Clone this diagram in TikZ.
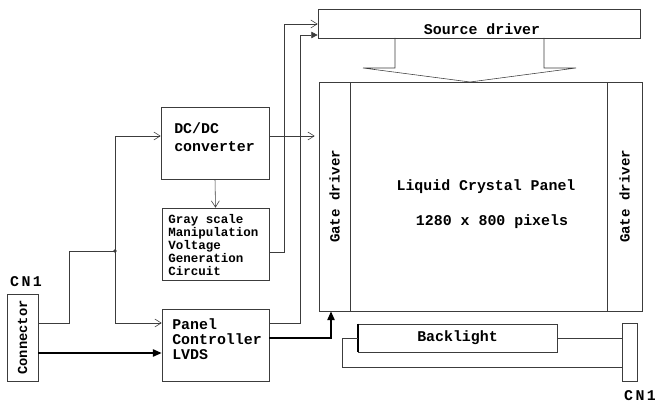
\documentclass[tikz,border=0pt]{standalone}
\usepackage{fontspec}
\setmainfont{Liberation Mono}
\usetikzlibrary{positioning, arrows.meta, calc}
\definecolor{lcdline}{RGB}{60,60,60}

\begin{document}
\begin{tikzpicture}[x=0.025cm, y=-0.025cm,
    blk/.style={draw=lcdline, thin, inner sep=0pt},
    txt/.style={inner sep=0pt, font=\bfseries\fontsize{10.6}{12.8}\selectfont},
    arr/.style={draw=lcdline, -{Straight Barb[length=1.6mm, width=2mm]}},
    sarr/.style={draw=lcdline, -{Triangle[length=1.6mm, width=1.6mm]}},
    fat/.style={draw=black, very thick, -{Triangle[length=2.2mm, width=1.8mm]}}]
  \useasboundingbox (0,0) rectangle (655,405);
  % display side
  \node[blk, minimum width=8.05cm, minimum height=0.725cm] (src) at (479,23.5) {};
  \node[txt] (srct) at (482,29) {Source driver};
  \node[blk, minimum width=8.075cm, minimum height=5.725cm] (panel) at (480.5,196.5) {};
  \node[blk, minimum width=0.775cm, minimum height=5.725cm, font=\bfseries\fontsize{10}{12}\selectfont] (gateL) at (334.5,196.5) {\rotatebox{90}{Gate driver}};
  \node[blk, minimum width=0.875cm, minimum height=5.725cm, font=\bfseries\fontsize{10}{12}\selectfont] (gateR) at (624.5,196.5) {\rotatebox{90}{Gate driver}};
  \node[txt] (lcd) at (486,187) {Liquid Crystal Panel};
  \node[txt] (res) at (492,222) {1280 x 800 pixels};
  \draw[lcdline] (395,38) -- (395,68) -- (363,68) -- (470,82) -- (576,68) -- (544,68) -- (544,38);
  % backlight
  \node[blk, txt, minimum width=4.975cm, minimum height=0.7cm] (bl) at (457.5,338) {Backlight};
  \node[blk, minimum width=0.375cm, minimum height=1.45cm] (cnb) at (629.5,352) {};
  \node[txt] (cnbt) at (640,396) {C\,N\,1};
  \draw[very thick] (bl.north west) -- (bl.south west);
  \draw[lcdline] (bl.east) -- (cnb.west |- bl.east);
  \draw[lcdline] (bl.west) -- (342,338) |- (cnb.west |- 0,367);
  % driving circuits
  \node[blk, minimum width=2.7cm, minimum height=1.8cm] (dcdc) at (215,143) {};
  \node[txt, anchor=west, align=left] (dcdct) at (174,137) {DC/DC\\converter};
  \node[blk, minimum width=2.675cm, minimum height=1.8cm] (gray) at (215.5,244) {};
  \node[txt, anchor=west, align=left, font=\bfseries\fontsize{8.9}{9.3}\selectfont] (grayt) at (168,245)
    {Gray scale\\Manipulation\\Voltage\\Generation\\Circuit};
  \node[blk, minimum width=2.675cm, minimum height=1.8cm] (pc) at (215.5,345) {};
  \node[txt, anchor=west, align=left, font=\bfseries\fontsize{10.6}{10.6}\selectfont] (pct) at (172,339)
    {Panel\\Controller\\LVDS};
  \node[blk, minimum width=0.775cm, minimum height=2.175cm, font=\bfseries\fontsize{9.8}{12}\selectfont] (conn) at (22.5,337.5) {\rotatebox{90}{Connector}};
  \node[txt] (cnat) at (26,282) {C\,N\,1};
  % wiring
  \coordinate (jn) at (115,251);
  \draw[fat] (conn.east |- 0,353) -- (pc.west |- 0,353);
  \draw[lcdline] (conn.east |- 0,323) -- (69,323) |- (jn);
  \fill[lcdline] (jn) circle (1.4pt);
  \draw[arr] (jn) |- (dcdc.west |- 0,136);
  \draw[arr] (jn) |- (pc.west |- 0,323);
  \draw[arr, shorten >=2.8pt] (dcdc.east |- 0,136) -- (panel.west |- 0,136);
  \draw[arr] (dcdc.south) -- (gray.north);
  \draw[arr] (gray.east |- 0,252) -- (284,252) -- (284,24) -- (src.west |- 0,24);
  \draw[sarr] (pc.east |- 0,323) -- (300,323) -- (300,35) -- (src.west |- 0,35);
  \draw[fat] (pc.east |- 0,338) -| (panel.south -| 331,0);
\end{tikzpicture}
\end{document}
